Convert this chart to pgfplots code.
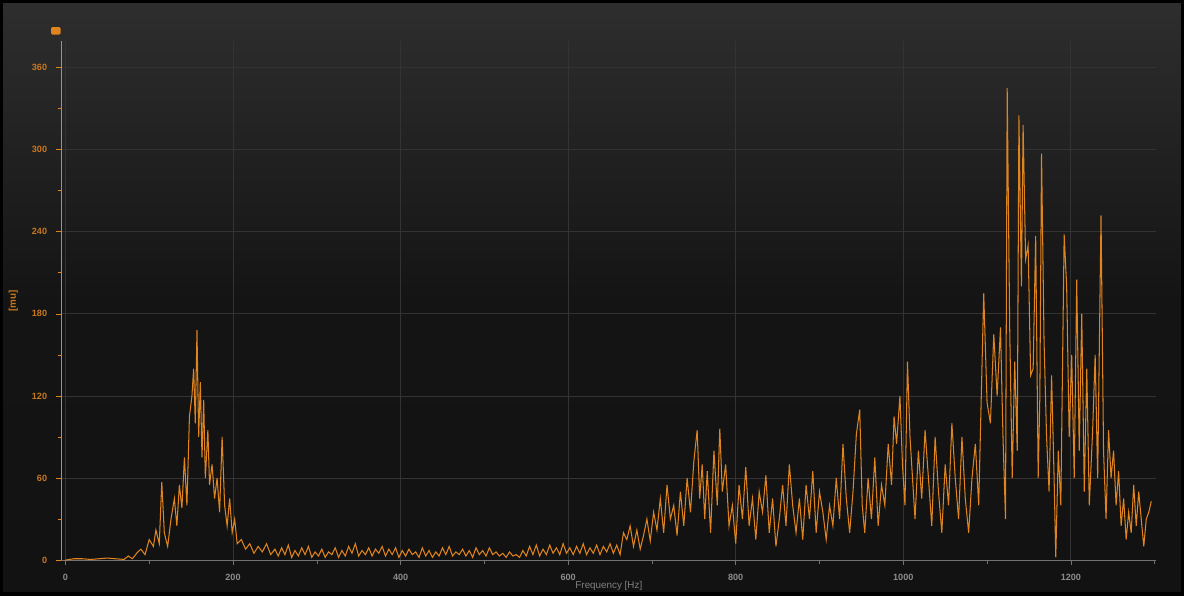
\documentclass[border=0pt]{standalone}
\usepackage{pgfplots}
\pgfplotsset{compat=1.18}
\usepackage{fontspec}
\setmainfont{Liberation Sans}
\definecolor{org}{HTML}{E08420}
\definecolor{lab}{HTML}{C8781E}
\begin{document}
\begin{tikzpicture}
\shade[top color=black!82,bottom color=black!93,middle color=black!92] (0,0) rectangle (16cm,8.027cm);
\draw[black,line width=1.2pt] (0,0) rectangle (16cm,8.027cm);
\fill[org,rounded corners=0.5pt] (0.67cm,7.58cm) rectangle (0.80cm,7.68cm);
\begin{axis}[at={(0.811cm,0.459cm)},anchor=south west,scale only axis,
 width=14.835cm,height=7.027cm,
 xmin=-4.8,xmax=1302,ymin=0,ymax=379,
 axis x line=bottom, axis y line=left,
 axis line style={-},
 x axis line style={black!55}, y axis line style={org},
 xtick={0,200,...,1200}, minor xtick={100,300,...,1300},
 ytick={0,60,...,360}, minor ytick={30,90,...,330},
 tick style={black!55}, y tick style={org}, major tick length=2pt, minor tick length=1.5pt,
 tick align=outside,
 grid=major, grid style={white!20!black,line width=0.3pt},
 ticklabel style={font=\fontsize{3.5}{4}\selectfont\bfseries},
 x tick label style={black!45,/pgf/number format/1000 sep={}},
 y tick label style={lab},
 /pgf/number format/assume math mode=true,
 xlabel={\fontsize{3.8}{4}\selectfont Frequency [Hz]}, xlabel style={black!50,yshift=6.5pt},
 ylabel={\fontsize{3.8}{4}\selectfont\bfseries [mu]}, ylabel style={lab,yshift=-1.5pt},
 clip=true]
\addplot[org,line width=0.4pt] coordinates {
(0,0)(10,1)(20,1)(30,0.5)(40,1)(50,1.5)(60,1)(70,0.5)(75,3)(80,1)(85,5)(90,8)(95,4)(100,15)(105,10)(108,22)(112,12)(115,57)(118,20)(122,10)(126,30)(130,45)(133,25)(136,55)(139,38)(142,75)(145,40)(148,105)(151,120)(153,140)(155,100)(157,168)(159,90)(161,130)(163,75)(165,117)(167,60)(170,95)(172,55)(175,70)(178,45)(181,60)(184,35)(187,90)(190,40)(193,25)(196,45)(199,20)(202,30)(205,12)(210,15)(215,8)(220,12)(225,5)(230,10)(235,6)(240,12)(245,4)(250,8)
(254,3)(258,9)(262,4)(266,11)(270,2)(274,7)(278,3)(282,9)(286,4)(290,10)(294,2)(298,6)(302,3)(306,8)(310,2)(314,6)(318,4)(322,9)(326,2)(330,7)(334,3)(338,10)(342,5)(346,12)(350,3)(354,7)(358,4)(362,9)(366,3)(370,8)(374,5)(378,10)(382,3)(386,8)(390,4)(394,9)(398,2)(402,7)(406,3)(410,8)(414,4)(418,6)(422,2)(426,9)(430,3)(434,7)(438,2)(442,6)(446,3)(450,9)(454,4)(458,10)(462,3)(466,6)(470,4)(474,8)(478,3)(482,7)(486,2)(490,9)(494,4)(498,7)(502,3)(506,9)(510,4)(514,6)(518,3)(522,5)(526,2)(530,6)(534,3)(538,4)(542,2)(546,7)(550,3)(554,10)(558,4)(562,11)(566,3)(570,8)(574,4)(578,11)(582,5)(586,9)(590,4)(594,12)(598,5)(602,9)(606,4)(610,10)(614,5)(618,12)(622,4)(626,9)(630,5)(634,11)(638,4)(642,10)(646,6)(650,12)(654,5)(658,11)(662,4)
(666,20)(670,15)(674,25)(678,10)(682,22)(686,8)(690,18)(694,30)(698,14)(702,35)(706,22)(710,45)(714,20)(718,55)(722,30)(726,40)(730,18)(734,50)(738,25)(742,60)(746,35)(750,72)(754,95)(757,45)(760,70)(763,30)(766,65)(770,20)(774,80)(778,40)(781,96)(784,50)(788,70)(792,25)(796,40)(800,12)(804,55)(808,30)(812,68)(816,25)(820,45)(824,15)(828,50)(832,35)(836,62)(840,20)(844,45)(848,10)(852,30)(856,55)(860,25)(864,70)(868,40)(872,20)(876,45)(880,15)(884,55)(888,30)(892,65)(896,20)(900,50)(904,35)(908,15)(912,40)(916,25)(920,60)(924,30)(928,85)(932,45)(936,20)(940,50)(944,92)(948,110)(951,40)(954,20)(958,60)(962,30)(966,75)(970,25)(974,55)(978,40)(982,85)(986,55)(989,105)(992,85)(996,120)(999,70)(1002,40)(1005,145)(1008,90)(1011,60)(1014,30)(1018,80)(1022,45)(1026,95)(1030,60)(1034,25)(1038,90)(1042,50)(1046,20)(1050,70)(1054,40)(1058,100)(1062,60)(1066,30)(1070,90)(1074,45)(1078,20)(1082,60)(1086,85)(1090,40)(1096,195)(1100,115)(1104,100)(1108,165)(1112,120)(1116,170)(1119,90)(1122,30)(1124,345)(1127,170)(1130,60)(1133,145)(1136,80)(1138,325)(1141,200)(1143,318)(1146,220)(1149,230)(1152,135)(1155,140)(1158,237)(1161,60)(1163,120)(1165,297)(1168,160)(1171,90)(1174,50)(1177,135)(1180,60)(1182,2)(1185,80)(1188,40)(1192,238)(1195,200)(1198,90)(1201,150)(1204,60)(1207,205)(1210,80)(1213,180)(1216,50)(1219,140)(1222,40)(1226,95)(1229,150)(1232,60)(1236,252)(1239,80)(1242,30)(1245,95)(1248,60)(1251,80)(1254,40)(1257,65)(1260,25)(1263,45)(1266,15)(1269,35)(1272,20)(1275,55)(1278,25)(1281,50)(1284,30)(1287,10)(1290,30)(1293,35)(1296,43)
};
\end{axis}
\end{tikzpicture}
\end{document}
